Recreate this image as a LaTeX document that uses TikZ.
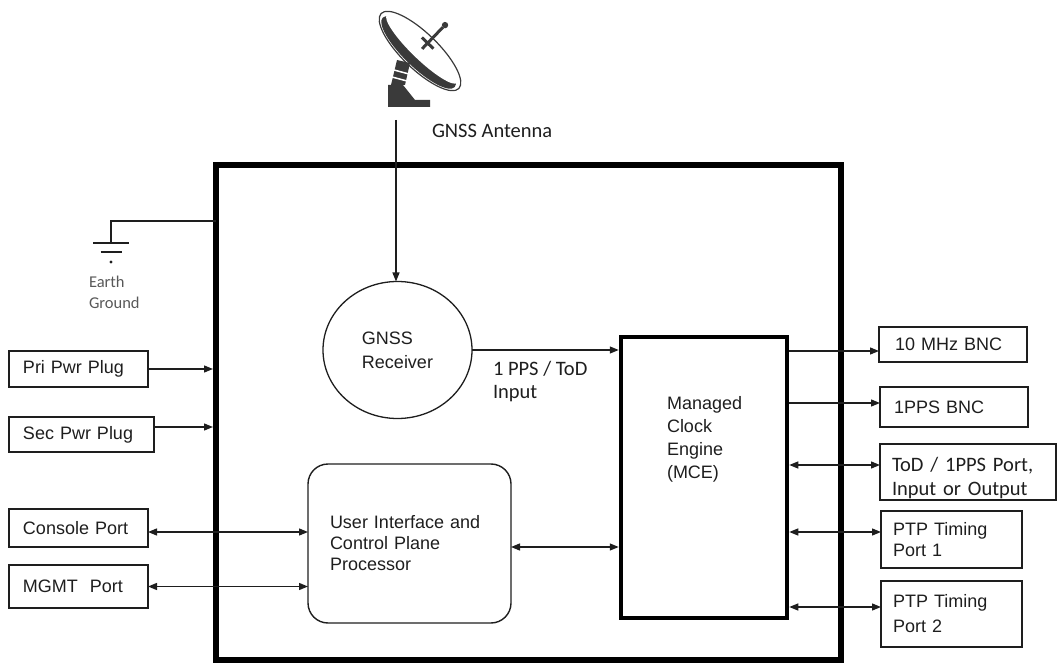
\documentclass[tikz,border=0pt]{standalone}
\usepackage{fontspec}
\setmainfont{Liberation Sans}
\newfontfamily\notefont{Carlito}
\usetikzlibrary{shapes.geometric, arrows.meta, fit, calc}
\definecolor{ink}{HTML}{1E1E1E}
\definecolor{icon}{HTML}{3A3A3A}
\definecolor{grnd}{HTML}{585858}

\begin{document}
\begin{tikzpicture}[x=1pt, y=-1pt,
        every node/.style={inner sep=0pt, outer sep=0pt, text=ink},
        >={Triangle[length=9pt, width=7pt]},
        wire/.style={draw=ink, line width=1.3pt},
        port/.style={draw=ink, line width=1.3pt, anchor=north west, align=left,
            font=\fontsize{18}{21}\selectfont, inner xsep=14pt},
        note/.style={align=left, font=\notefont\fontsize{20.5}{23}\selectfont}]
    \useasboundingbox (0,0) rectangle (1058,663);

    % chassis
    \coordinate (chnw) at (216,165);
    \coordinate (chse) at (841,660);
    \node [draw=black, line width=6pt, fit=(chnw)(chse)] (chassis) {};

    % antenna icon
    \begin{scope}[shift={(420,51)}, rotate=-44]
        \draw [icon, line width=1.2pt] (0,0) ellipse [x radius=54, y radius=18];
        \fill [icon] (0,2) ellipse [x radius=50, y radius=14.5];
        \fill [white] (0,-3) ellipse [x radius=49, y radius=10.5];
        \draw [icon, line width=3pt] (0,-3) -- (0,-33);
        \draw [icon, line width=3pt] (-8,-11) -- (8,-11);
        \fill [icon] (0,-36) circle (3.2);
    \end{scope}
    \fill [icon] (397,60) -- (410,63) -- (405,85) -- (391,85) -- cycle;
    \draw [white, line width=1.5pt] (394,70) -- (409,74) (392,77) -- (407,81);
    \fill [icon] (388,85) -- (403,85) -- (415,100) -- (430,100) -- (430,107) -- (388,107) -- cycle;
    \node [note, anchor=west] (antlabel) at (432,131) {GNSS Antenna};

    % earth ground
    \coordinate (gndtap) at (111,221);
    \coordinate (gnd) at (111,243);
    \draw [wire] (gndtap -| chassis.west) -- (gndtap) -- (gnd);
    \draw [ink, line width=2.5pt] ($(gnd)+(-18,0)$) -- ($(gnd)+(18,0)$);
    \draw [ink, line width=2.5pt] ($(gnd)+(-10.5,9)$) -- ($(gnd)+(10.5,9)$);
    \fill [ink] ($(gnd)+(0,19)$) circle (1.6);
    \node [anchor=north west, align=left, text=grnd,
           font=\notefont\fontsize{16.5}{21}\selectfont] (gndlabel) at (89,276.5) {Earth\\Ground};

    % inner blocks
    \node [draw=ink, ellipse, line width=1.3pt, minimum width=149pt, minimum height=137pt,
           align=left, font=\fontsize{18}{24}\selectfont] (gnss) at (397.5,350) {GNSS\\Receiver};
    \node [draw=ink, rounded corners=20pt, line width=1.4pt, anchor=north west,
           minimum height=159pt, text width=159pt, inner xsep=22pt, align=left,
           font=\fontsize{18}{21}\selectfont] (uicp) at (308,464)
           {User Interface and\\Control Plane\\Processor};
    \node [draw=black, line width=4.5pt, anchor=north west,
           minimum width=166pt, minimum height=281pt] (mce) at (621,337) {};
    \node [anchor=north west, align=left, font=\fontsize{18}{23}\selectfont]
           (mcelabel) at (667,396) {Managed\\Clock\\Engine\\(MCE)};

    % left ports
    \node [port, text width=111pt, minimum height=36pt] (pri)     at (9,351) {Pri Pwr Plug};
    \node [port, text width=117pt, minimum height=35pt] (sec)     at (9,417) {Sec Pwr Plug};
    \node [port, text width=111pt, minimum height=38pt] (console) at (9,509) {Console Port};
    \node [port, text width=111pt, minimum height=43pt] (mgmt)    at (9,565) {MGMT\ \ Port};

    % right ports
    \node [port, text width=116pt, inner xsep=16pt, minimum height=35pt] (tenmhz) at (879,327) {10 MHz BNC};
    \node [port, text width=120pt, minimum height=40pt] (ppsbnc) at (880,387) {1PPS BNC};
    \node [port, text width=152pt, inner xsep=12pt, minimum height=56pt,
           font=\notefont\fontsize{20.5}{24}\selectfont] (todport) at (880,444)
           {\rule{0pt}{27pt}ToD / 1PPS Port,\\Input or Output};
    \node [port, text width=117pt, inner xsep=12pt, minimum height=57pt] (ptpa) at (881,511) {PTP Timing\\Port 1};
    \node [port, text width=117pt, inner xsep=12pt, minimum height=66pt,
           font=\fontsize{18}{25}\selectfont] (ptpb) at (881,581) {PTP Timing\\Port 2};

    % signal paths
    \coordinate (antfeed) at (396,120);
    \draw [wire, ->] (antfeed) -- (antfeed |- gnss.north);
    \draw [wire, ->, shorten >=2.25pt] (gnss.east) -- (gnss.east -| mce.west);
    \node [note, anchor=north west] (ppslabel) at (493,361) {1 PPS / ToD\\Input};

    \draw [wire, ->, shorten >=3pt] (pri.east) -- (pri.east -| chassis.west);
    \coordinate (secout) at ($(sec.east)+(0,-7.5)$);
    \draw [wire, ->, shorten >=3pt] (secout) -- (secout -| chassis.west);

    \coordinate (conout) at ($(console.east)+(0,4)$);
    \draw [wire, <->] (conout) -- (conout -| uicp.west);
    \draw [wire, <->] (mgmt.east) -- (mgmt.east -| uicp.west);
    \coordinate (uiout) at ($(uicp.east)+(0,3.5)$);
    \draw [wire, <->, shorten >=2.25pt] (uiout) -- (uiout -| mce.west);

    \coordinate (tenin) at ($(tenmhz.west)+(0,6.5)$);
    \draw [wire, ->, shorten <=2.25pt] (tenin -| mce.east) -- (tenin);
    \coordinate (ppsin) at ($(ppsbnc.west)+(0,-4)$);
    \draw [wire, ->, shorten <=2.25pt] (ppsin -| mce.east) -- (ppsin);
    \coordinate (todin) at ($(todport.west)+(0,-7)$);
    \draw [wire, <->, shorten <=2.25pt] (todin -| mce.east) -- (todin);
    \coordinate (ptpain) at ($(ptpa.west)+(0,-7.5)$);
    \draw [wire, <->, shorten <=2.25pt] (ptpain -| mce.east) -- (ptpain);
    \coordinate (ptpbin) at ($(ptpb.west)+(0,-7)$);
    \draw [wire, <->, shorten <=2.25pt] (ptpbin -| mce.east) -- (ptpbin);
\end{tikzpicture}
\end{document}
